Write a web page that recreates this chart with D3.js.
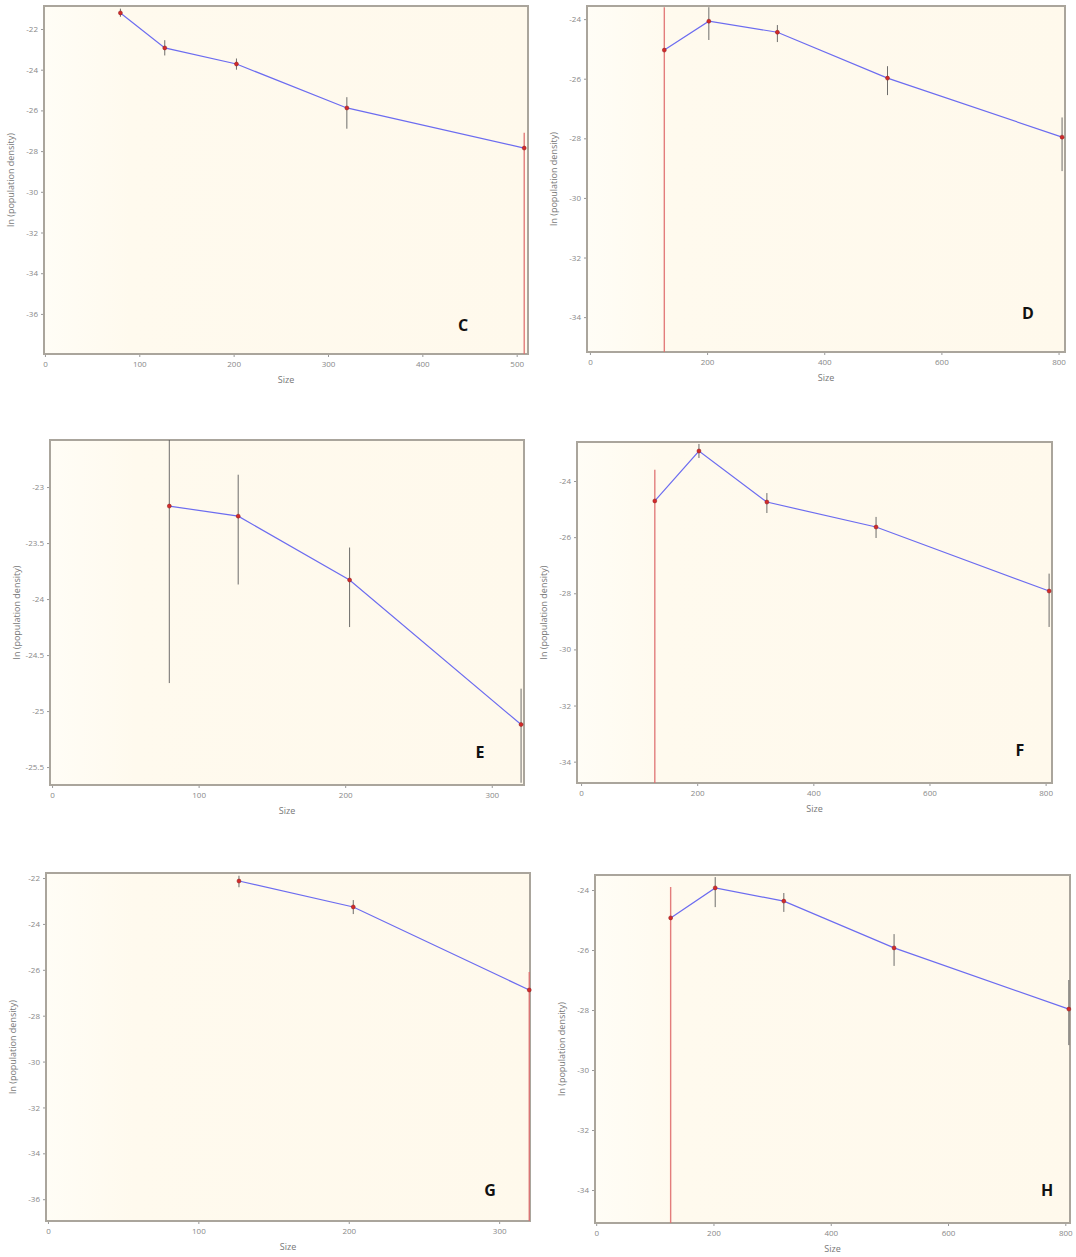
<!DOCTYPE html>
<html><head><meta charset="utf-8">
<script src="https://cdn.jsdelivr.net/npm/d3@7"></script>
<style>body{margin:0;background:#fff}svg{display:block}</style>
</head><body>
<script>
// ---- data ----
const panelNames = ["C","D","E","F","G","H"];
const sizesC = [80,127,203,320,508];
const meanC  = [-21.21,-22.93,-23.72,-25.88,-27.85];
const lowC   = [-21.4,-23.3,-24.0,-26.9,-40];
const highC  = [-21.0,-22.55,-23.45,-25.35,-27.1];

const sizesD = [127,203,320,508,806];
const meanD  = [-25.04,-24.07,-24.44,-25.98,-27.96];
const lowD   = [-40,-24.7,-24.77,-26.55,-29.1];
const highD  = [-23.6,-23.6,-24.2,-25.58,-27.3];

const sizesE = [80,127,203,320];
const meanE  = [-23.17,-23.26,-23.83,-25.12];
const lowE   = [-24.75,-23.87,-24.25,-25.64];
const highE  = [-22.55,-22.89,-23.54,-24.80];

const sizesF = [127,203,320,508,806];
const meanF  = [-24.71,-22.93,-24.75,-25.64,-27.92];
const lowF   = [-40,-23.18,-25.14,-26.03,-29.2];
const highF  = [-23.6,-22.68,-24.43,-25.28,-27.3];

const sizesG = [127,203,320];
const meanG  = [-22.13,-23.26,-26.88];
const lowG   = [-22.4,-23.57,-40];
const highG  = [-21.9,-22.96,-26.1];

const sizesH = [127,203,320,508,806];
const meanH  = [-24.93,-23.93,-24.37,-25.93,-27.97];
const lowH   = [-40,-24.57,-24.73,-26.53,-29.17];
const highH  = [-23.9,-23.57,-24.1,-25.47,-27.0];

const yTicksC = [-22,-24,-26,-28,-30,-32,-34,-36];
const yTicksD = [-24,-26,-28,-30,-32,-34];
const yTicksE = [-23,-23.5,-24,-24.5,-25,-25.5];
const yTicksF = [-24,-26,-28,-30,-32,-34];
const yTicksG = [-22,-24,-26,-28,-30,-32,-34,-36];
const yTicksH = [-24,-26,-28,-30,-32,-34];

const xTicksC = [0,100,200,300,400,500];
const xTicksD = [0,200,400,600,800];
const xTicksE = [0,100,200,300];
const xTicksF = [0,200,400,600,800];
const xTicksG = [0,100,200,300];
const xTicksH = [0,200,400,600,800];

const yTitle = "ln (population density)";
const xTitle = "Size";

// ---- layout (positions, not data) ----
const layout = {
  C:{box:[44,6,528,354],  xd:[-1,512],    yd:[-37.97,-20.87], letter:[463,325]},
  D:{box:[587,6,1065,352],xd:[-5,811],    yd:[-35.17,-23.56], letter:[1028,313]},
  E:{box:[50,440,524,785],xd:[-1.4,322],  yd:[-25.66,-22.58], letter:[480,752]},
  F:{box:[577,442,1052,783],xd:[-7,811],  yd:[-34.76,-22.61], letter:[1020,750]},
  G:{box:[46,873,530,1221],xd:[-1.3,320.5],yd:[-36.95,-21.78],letter:[490,1190]},
  H:{box:[595,875,1070,1223],xd:[-2,808], yd:[-35.1,-23.5],   letter:[1047,1190]}
};
const dataMap = {
  C:{x:sizesC,m:meanC,lo:lowC,hi:highC,yt:yTicksC,xt:xTicksC},
  D:{x:sizesD,m:meanD,lo:lowD,hi:highD,yt:yTicksD,xt:xTicksD},
  E:{x:sizesE,m:meanE,lo:lowE,hi:highE,yt:yTicksE,xt:xTicksE},
  F:{x:sizesF,m:meanF,lo:lowF,hi:highF,yt:yTicksF,xt:xTicksF},
  G:{x:sizesG,m:meanG,lo:lowG,hi:highG,yt:yTicksG,xt:xTicksG},
  H:{x:sizesH,m:meanH,lo:lowH,hi:highH,yt:yTicksH,xt:xTicksH}
};

const svg = d3.select("body").append("svg").attr("width",1076).attr("height",1257);
const defs = svg.append("defs");
const grad = defs.append("linearGradient").attr("id","bg").attr("x1","0").attr("x2","1").attr("y1","0").attr("y2","0");
grad.append("stop").attr("offset","0").attr("stop-color","#fffdf6");
grad.append("stop").attr("offset","0.18").attr("stop-color","#fffaee");
grad.append("stop").attr("offset","1").attr("stop-color","#fff9ec");

panelNames.forEach((name,pi)=>{
  const L = layout[name], D = dataMap[name];
  const [x0,y0,x1,y1] = L.box;
  const x = d3.scaleLinear().domain(L.xd).range([x0,x1]);
  const y = d3.scaleLinear().domain(L.yd).range([y1,y0]);
  const g = svg.append("g");
  const cid = "clip"+name;
  defs.append("clipPath").attr("id",cid).append("rect").attr("x",x0-6).attr("y",y0).attr("width",x1-x0+12).attr("height",y1-y0);

  g.append("rect").attr("x",x0).attr("y",y0).attr("width",x1-x0).attr("height",y1-y0).attr("fill","url(#bg)");

  // axes
  const ya = g.append("g").attr("transform",`translate(${x0},0)`)
    .call(d3.axisLeft(y).tickValues(D.yt).tickSize(3).tickPadding(3).tickFormat(d=>String(d)));
  const xa = g.append("g").attr("transform",`translate(0,${y1})`)
    .call(d3.axisBottom(x).tickValues(D.xt).tickSize(3).tickPadding(4).tickFormat(d3.format("d")));
  [ya,xa].forEach(a=>{
    a.select(".domain").remove();
    a.selectAll(".tick line").attr("stroke","#999");
    a.selectAll(".tick text").attr("fill","#888").attr("font-size",8).attr("font-family","Open Sans, sans-serif");
  });

  // frame (under the marks so that right-edge bars stay visible)
  g.append("rect").attr("x",x0).attr("y",y0).attr("width",x1-x0).attr("height",y1-y0)
    .attr("fill","none").attr("stroke","#aaa59c").attr("stroke-width",2);

  const cg = g.append("g").attr("clip-path",`url(#${cid})`);
  const pts = D.x.map((s,i)=>({s, m:D.m[i], lo:D.lo[i], hi:D.hi[i]}));
  // error bars
  cg.selectAll("line.eb").data(pts).join("line").attr("class","eb")
    .attr("x1",d=>x(d.s)).attr("x2",d=>x(d.s))
    .attr("y1",d=>y(d.hi)).attr("y2",d=>y(d.lo))
    .attr("stroke",d=> d.lo < L.yd[0] ? "#e07070" : "#555")
    .attr("stroke-width",d=> d.lo < L.yd[0] ? 1.4 : 1)
    .attr("opacity",d=> d.lo < L.yd[0] ? 0.9 : 0.85);
  // line
  cg.append("path").datum(pts)
    .attr("d",d3.line().x(d=>x(d.s)).y(d=>y(d.m)))
    .attr("fill","none").attr("stroke","#6c6cf0").attr("stroke-width",1.2);
  // points
  cg.selectAll("circle").data(pts).join("circle")
    .attr("cx",d=>x(d.s)).attr("cy",d=>y(d.m)).attr("r",2)
    .attr("fill","#d42a2a").attr("stroke","#8a1a1a").attr("stroke-width",0.5);

  // titles
  g.append("text").attr("transform",`translate(${x0-30},${(y0+y1)/2}) rotate(-90)`)
    .attr("text-anchor","middle").attr("font-size",9).attr("fill","#777")
    .attr("font-family","Open Sans, sans-serif").text(yTitle);
  g.append("text").attr("x",(x0+x1)/2).attr("y",y1+29)
    .attr("text-anchor","middle").attr("font-size",9).attr("fill","#777")
    .attr("font-family","Open Sans, sans-serif").text(xTitle);
  g.append("text").attr("x",L.letter[0]).attr("y",L.letter[1]+6)
    .attr("text-anchor","middle").attr("font-size",16).attr("font-weight","bold")
    .attr("fill","#111").attr("font-family","Open Sans, sans-serif").text(name);
});
</script>
</body></html>
